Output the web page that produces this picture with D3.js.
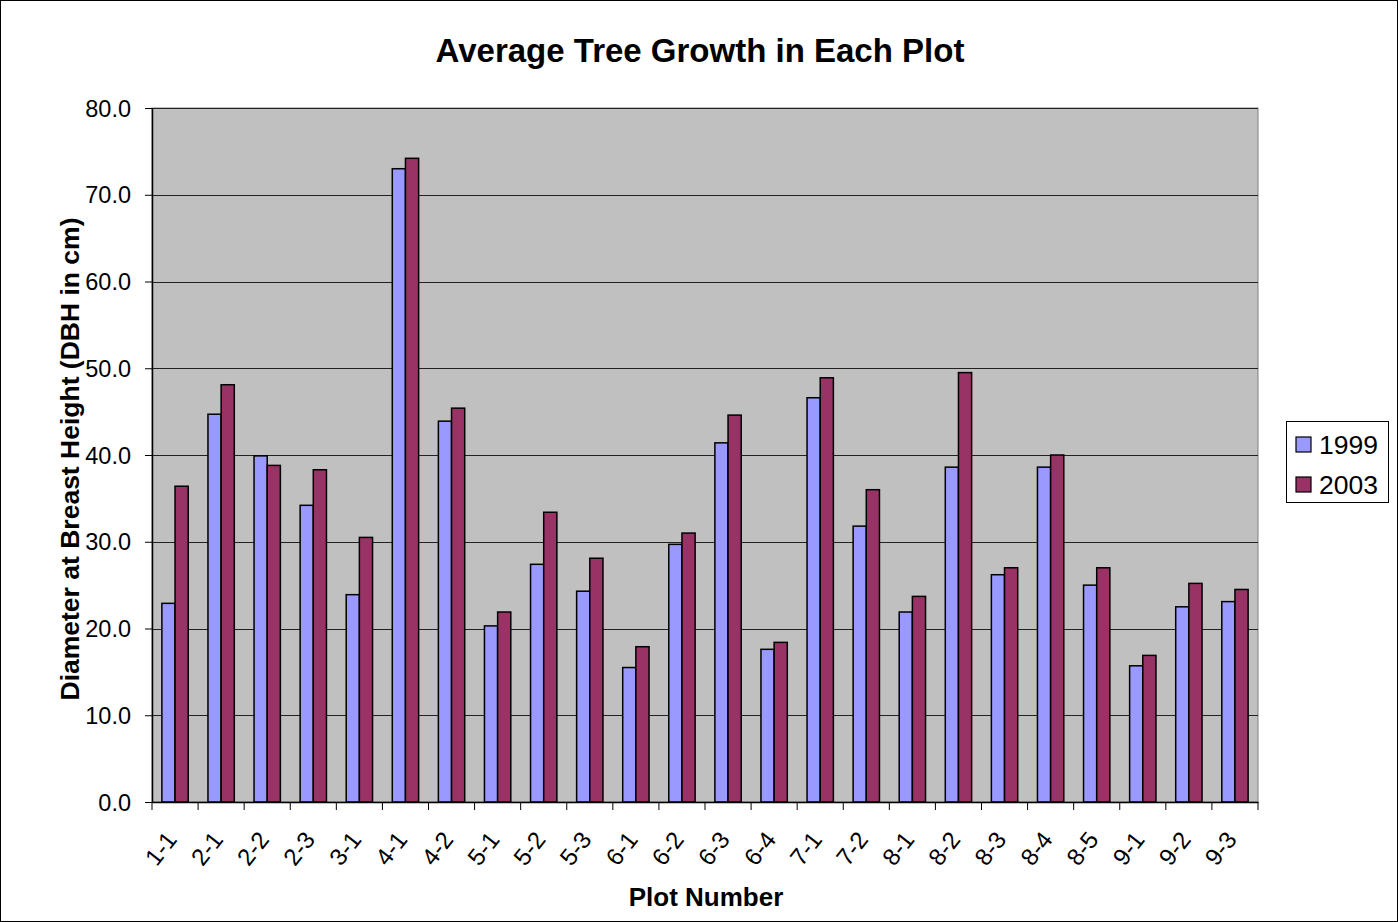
<!DOCTYPE html>
<html>
<head>
<meta charset="utf-8">
<script src="https://cdn.jsdelivr.net/npm/d3@7"></script>
<style>
  body { margin: 0; background: #fff; }
  text { font-family: "Liberation Sans", Arial, sans-serif; }
</style>
</head>
<body>
<div id="chart"></div>
<script>
var plots = ["1-1","2-1","2-2","2-3","3-1","4-1","4-2","5-1","5-2","5-3","6-1","6-2","6-3","6-4","7-1","7-2","8-1","8-2","8-3","8-4","8-5","9-1","9-2","9-3"];
var dbh1999 = [22.9,44.7,39.9,34.2,23.9,73.0,43.9,20.3,27.4,24.3,15.5,29.7,41.4,17.6,46.6,31.8,21.9,38.6,26.2,38.6,25.0,15.7,22.5,23.1];
var dbh2003 = [36.4,48.1,38.8,38.3,30.5,74.2,45.4,21.9,33.4,28.1,17.9,31.0,44.6,18.4,48.9,36.0,23.7,49.5,27.0,40.0,27.0,16.9,25.2,24.5];
var years = ["1999","2003"];
var yTicks = [0,10,20,30,40,50,60,70,80];

(function() {
    var width = 1398, height = 922;
    var colors = {"1999": "#9999FF", "2003": "#993366"};
    var pLeft = 152, pRight = 1258, pTop = 108, pBottom = 802;

    var svg = d3.select("#chart").append("svg")
        .attr("width", width)
        .attr("height", height);

    // outer border
    svg.append("rect")
        .attr("x", 0.5).attr("y", 0.5)
        .attr("width", width - 1).attr("height", height - 1)
        .attr("fill", "#fff").attr("stroke", "#000");

    var x = d3.scaleBand().domain(plots).range([pLeft, pRight]);
    var x1 = d3.scaleBand().domain(years)
        .range([x.bandwidth() * 0.2143, x.bandwidth() * (1 - 0.2143)]);
    var y = d3.scaleLinear().domain([0, 80]).range([pBottom, pTop]);

    // plot area
    svg.append("rect")
        .attr("x", pLeft).attr("y", pTop)
        .attr("width", pRight - pLeft).attr("height", pBottom - pTop)
        .attr("fill", "#C0C0C0").attr("stroke", "#808080");

    // gridlines
    svg.append("g").selectAll("line")
        .data(yTicks.filter(function(d) { return d > 0 }))
        .enter().append("line")
        .attr("x1", pLeft).attr("x2", pRight)
        .attr("y1", function(d) { return Math.round(y(d)) + 0.5 })
        .attr("y2", function(d) { return Math.round(y(d)) + 0.5 })
        .attr("stroke", "#222").attr("stroke-width", 1);

    // bars
    var rows = plots.map(function(p, i) {
        return {plot: p, values: [{year: "1999", v: dbh1999[i]}, {year: "2003", v: dbh2003[i]}]};
    });

    svg.append("g").selectAll("g")
        .data(rows)
        .enter().append("g")
        .attr("transform", function(d) { return "translate(" + x(d.plot) + ",0)" })
        .selectAll("rect")
        .data(function(d) { return d.values })
        .enter().append("rect")
        .attr("x", function(d) { return x1(d.year) })
        .attr("y", function(d) { return y(d.v) })
        .attr("width", x1.bandwidth())
        .attr("height", function(d) { return pBottom - y(d.v) })
        .attr("fill", function(d) { return colors[d.year] })
        .attr("stroke", "#000").attr("stroke-width", 1.5);

    // y axis
    var yAxis = d3.axisLeft(y).tickValues(yTicks)
        .tickFormat(d3.format(".1f")).tickSize(7).tickSizeOuter(0);
    var gy = svg.append("g")
        .attr("transform", "translate(" + pLeft + ",0)")
        .call(yAxis);
    gy.select(".domain").attr("stroke", "#000").attr("stroke-width", 1.5);
    gy.selectAll(".tick line").attr("stroke", "#000");
    gy.selectAll(".tick text")
        .attr("font-size", 23.5).attr("fill", "#000")
        .attr("font-family", "Liberation Sans, Arial, sans-serif")
        .attr("x", -21).attr("dy", "0.35em");

    // x axis
    var xAxis = d3.axisBottom(x).tickSize(0).tickSizeOuter(0);
    var gx = svg.append("g")
        .attr("transform", "translate(0," + pBottom + ")")
        .call(xAxis);
    gx.select(".domain").attr("stroke", "#000").attr("stroke-width", 1.5);
    gx.selectAll(".tick text")
        .attr("font-size", 24).attr("fill", "#000")
        .attr("font-family", "Liberation Sans, Arial, sans-serif")
        .attr("text-anchor", "end")
        .attr("y", 0).attr("dy", 0)
        .attr("transform", "translate(-2,34) rotate(-52)")
        .attr("dominant-baseline", "middle");

    // category boundary ticks
    svg.append("g").selectAll("line")
        .data(plots.concat(["end"]))
        .enter().append("line")
        .attr("x1", function(d, i) { return pLeft + i * x.step() })
        .attr("x2", function(d, i) { return pLeft + i * x.step() })
        .attr("y1", pBottom).attr("y2", pBottom + 8)
        .attr("stroke", "#000");

    // titles
    svg.append("text")
        .attr("x", 700).attr("y", 62)
        .attr("text-anchor", "middle")
        .attr("font-size", 33).attr("font-weight", "bold")
        .text("Average Tree Growth in Each Plot");

    svg.append("text")
        .attr("x", 706).attr("y", 906)
        .attr("text-anchor", "middle")
        .attr("font-size", 26).attr("font-weight", "bold")
        .text("Plot Number");

    svg.append("text")
        .attr("transform", "translate(79,459) rotate(-90)")
        .attr("text-anchor", "middle")
        .attr("font-size", 26.5).attr("font-weight", "bold")
        .text("Diameter at Breast Height (DBH in cm)");

    // legend
    var legend = svg.append("g").attr("transform", "translate(1286,421)");
    legend.append("rect")
        .attr("x", 0.5).attr("y", 0.5)
        .attr("width", 102).attr("height", 81)
        .attr("fill", "#fff").attr("stroke", "#000");
    var items = legend.selectAll("g.item")
        .data(years)
        .enter().append("g")
        .attr("class", "item")
        .attr("transform", function(d, i) { return "translate(0," + (23 + i * 40) + ")" });
    items.append("rect")
        .attr("x", 10).attr("y", -7)
        .attr("width", 15).attr("height", 15)
        .attr("fill", function(d) { return colors[d] })
        .attr("stroke", "#000").attr("stroke-width", 1.2);
    items.append("text")
        .attr("x", 33).attr("y", 1)
        .attr("dy", "0.35em")
        .attr("font-size", 26.5)
        .text(function(d) { return d });
})();
</script>
</body>
</html>
